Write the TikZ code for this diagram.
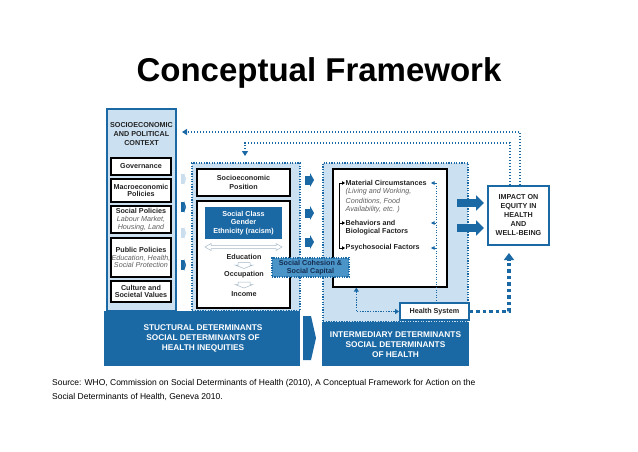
\documentclass[tikz,border=0pt]{standalone}
\usepackage{fontspec}
\setmainfont{Liberation Sans}
\usetikzlibrary{arrows.meta,calc}
\definecolor{dblue}{RGB}{26,104,164}
\definecolor{lblue}{RGB}{203,224,240}
\definecolor{mblue}{RGB}{74,148,200}
\definecolor{navy}{RGB}{20,45,80}
\definecolor{txt}{RGB}{35,35,35}
\definecolor{itc}{RGB}{95,95,95}
\definecolor{agray}{RGB}{165,185,200}
\begin{document}
\begin{tikzpicture}[x=1pt,y=-1pt,
  sm/.style={font=\bfseries\fontsize{7.2}{8.8}\selectfont, text=txt, align=center},
  smt/.style={font=\bfseries\fontsize{7.2}{7.7}\selectfont, text=txt, align=center},
  rt/.style={font=\bfseries\fontsize{7.2}{8.8}\selectfont, text=txt, anchor=west, inner sep=0.5pt},
  it/.style={font=\itshape\fontsize{7.2}{8.8}\selectfont, text=itc, anchor=west, inner sep=0.5pt},
  bandtxt/.style={font=\bfseries\fontsize{8.3}{10}\selectfont, text=white, align=center},
  wbox/.style={draw=black, line width=1.3pt, fill=white, inner sep=0pt},
  dotbox/.style={draw=dblue, line width=2pt, dash pattern=on 1.3pt off 1.3pt, fill=lblue, inner sep=0pt},
  band/.style={fill=dblue, inner sep=0pt},
  fb/.style={draw=dblue, line width=1.4pt, dash pattern=on 1.4pt off 1.6pt, -{Triangle[length=5pt,width=6pt]}},
  fbthick/.style={draw=dblue, line width=3.5pt, dash pattern=on 3.5pt off 3pt, -{Triangle[length=7pt,width=10pt]}},
  bigarr/.style={draw=dblue, line width=8pt, -{Triangle[length=8pt,width=15pt]}},
  midarr/.style={draw=dblue, line width=9pt, -{Triangle[length=4pt,width=14pt]}},
  tinyarr/.style={line width=10pt, -{Triangle[length=2pt,width=12pt]}},
  brk/.style={black, line width=0.9pt, -{Triangle[length=3pt,width=3.5pt]}},
  rarr/.style={dblue, line width=0.6pt, -{Triangle[length=3.5pt,width=3.5pt]}},
  hollow/.style={draw=agray, fill=white, line width=0.5pt}
]
\useasboundingbox (0,0) rectangle (638,452);

\node[font=\bfseries\fontsize{33}{36}\selectfont] (title) at (319,73) {Conceptual Framework};

% left column
\node[draw=dblue, line width=1.5pt, fill=lblue, minimum width=69pt, minimum height=202pt, inner sep=0pt] (ctx) at (141.5,210) {};
\node[sm] (ctxh) at (141.5,134) {SOCIOECONOMIC\\AND POLITICAL\\CONTEXT};
\node[wbox, sm, minimum width=60pt, minimum height=17pt] (gov) at (141,166.5) {Governance};
\node[wbox, smt, minimum width=60pt, minimum height=23pt] (macro) at (141,190.5) {Macroeconomic\\Policies};
\node[wbox, smt, minimum width=60pt, minimum height=27pt] (socpol) at (141,219.5) {Social Policies\\{\mdseries\itshape\color{itc}Labour Market,}\\{\mdseries\itshape\color{itc}Housing, Land}};
\node[wbox, smt, minimum width=60pt, minimum height=39pt] (pubpol) at (141,257.5) {Public Policies\\{\mdseries\itshape\color{itc}Education, Health,}\\{\mdseries\itshape\color{itc}Social Protection}};
\node[wbox, smt, minimum width=60pt, minimum height=21pt] (culture) at (141,291.5) {Culture and\\Societal Values};

% middle (structural) box
\node[dotbox, minimum width=108pt, minimum height=148pt] (midbox) at (246,237) {};
\node[wbox, sm, minimum width=93pt, minimum height=27pt] (sep) at (243.5,182.5) {Socioeconomic\\Position};
\node[wbox, minimum width=93pt, minimum height=107pt] (bigbox) at (243.5,254.5) {};
\node[band, sm, text=white, minimum width=77pt, minimum height=32pt] (scg) at (243.5,223) {Social Class\\Gender\\Ethnicity (racism)};
\draw[hollow] (205,247) -- (211,243.5) -- (211,245.5) -- (276,245.5) -- (276,243.5) -- (282,247) -- (276,250.5) -- (276,248.5) -- (211,248.5) -- (211,250.5) -- cycle;
\node[sm] (edu) at (244,257) {Education};
\draw[hollow] (238,262.5) -- (250,262.5) -- (250,265) -- (253,265) -- (244,268.5) -- (235,265) -- (238,265) -- cycle;
\node[sm] (occ) at (244,274.5) {Occupation};
\draw[hollow] (238,282) -- (250,282) -- (250,284.5) -- (253,284.5) -- (244,288) -- (235,284.5) -- (238,284.5) -- cycle;
\node[sm] (inc) at (244,294) {Income};

% bottom bands
\node[band, minimum width=196pt, minimum height=55pt] (bandL) at (202,338.5) {};
\node[bandtxt] (bandLt) at (203,338) {STUCTURAL DETERMINANTS\\SOCIAL DETERMINANTS OF\\HEALTH INEQUITIES};
\fill[dblue] (303,316) -- (311,316) -- (316,338) -- (311,360) -- (303,360) -- cycle;

% right (intermediary) box
\node[dotbox, minimum width=145pt, minimum height=159pt] (rbox) at (395.5,242.5) {};
\node[wbox, minimum width=114pt, minimum height=118pt] (rwhite) at (390,228) {};
\node[rt] (mat) at (345,183) {Material Circumstances};
\node[it] (l1) at (345,192) {(Living and Working,};
\node[it] (l2) at (345,201) {Conditions, Food};
\node[it] (l3) at (345,210) {Availability, etc. )};
\node[rt] (beh1) at (345,223) {Behaviors and};
\node[rt] (beh2) at (345,232) {Biological Factors};
\node[rt] (psy) at (345,248) {Psychosocial Factors};
\coordinate (bt) at (339,183);
\draw[black, line width=0.9pt] (bt) -- (bt |- psy.west);
\foreach \n in {mat,beh1,psy} \draw[brk] (bt |- \n.west) -- (\n.west);

\node[draw=dblue, line width=1.8pt, fill=white, font=\bfseries\fontsize{7.2}{8.8}\selectfont, text=txt, minimum width=69pt, minimum height=17pt, inner sep=0pt] (hs) at (434.5,311.5) {Health System};
\coordinate (vl) at (436,183);
\draw[dblue, line width=0.6pt, dotted] (vl) -- (vl |- hs.north);
\foreach \n in {mat,beh1,psy} \draw[rarr] (vl |- \n.west) -- ++(-5,0);
\draw[draw=dblue, line width=1.3pt, dash pattern=on 1.3pt off 1.3pt, {Triangle[length=4pt,width=5pt]}-{Triangle[length=4pt,width=5pt]}] ([xshift=24pt]rwhite.south west) |- (hs.west);

\node[band, minimum width=147pt, minimum height=44pt] (bandR) at (395.5,344) {};
\node[bandtxt] (bandRt) at (395.5,345) {INTERMEDIARY DETERMINANTS\\SOCIAL DETERMINANTS\\OF HEALTH};

% social cohesion
\node[draw=dblue, line width=1.6pt, dash pattern=on 1.2pt off 1.2pt, fill=mblue, font=\bfseries\fontsize{7.2}{8}\selectfont, text=navy, align=center, minimum width=77pt, minimum height=19pt, inner sep=0pt] (coh) at (310.5,267.5) {Social Cohesion \&\\Social Capital};

% impact
\node[draw=dblue, line width=2pt, fill=white, sm, minimum width=61pt, minimum height=59pt, inner sep=0pt, font=\bfseries\fontsize{7.2}{9}\selectfont] (impact) at (518.5,215.5) {IMPACT ON\\EQUITY IN\\HEALTH\\AND\\WELL-BEING};

% block arrows
\coordinate (ba1) at (457,203);
\coordinate (ba2) at (457,228);
\draw[bigarr] (ba1) -- ($(ba1 -| impact.west)+(-3,0)$);
\draw[bigarr] (ba2) -- ($(ba2 -| impact.west)+(-3,0)$);
\foreach \i/\y in {1/180,2/213,3/242} {
  \coordinate (ma\i) at (305,\y);
  \draw[midarr] (ma\i) -- ($(ma\i -| rbox.west)+(-8,0)$);
}
\foreach \i/\y/\c in {1/179/lblue!80!dblue!60,2/207/dblue,3/233/lblue!80!dblue!60,4/265/dblue} {
  \coordinate (la\i) at (181,\y);
  \draw[tinyarr, draw=\c] (la\i) -- ($(la\i -| midbox.west)+(-5,0)$);
}

% feedback loops
\coordinate (fb1end) at (182,132);
\draw[fb] ([xshift=1.5pt]impact.north) |- (fb1end);
\coordinate (fb2turn) at (245,143);
\draw[fb] ([xshift=-8.5pt]impact.north) |- (fb2turn) -- ($(midbox.north -| fb2turn)+(0,-6)$);
\draw[fbthick] (hs.east) -| ($(impact.south)+(-9.5,7)$);

% source
\node[anchor=west, align=left, inner sep=0pt, font=\fontsize{8.5}{14}\selectfont] (src) at (52,390) {Source: WHO, Commission on Social Determinants of Health (2010), A Conceptual Framework for Action on the\\Social Determinants of Health, Geneva 2010.};
\end{tikzpicture}
\end{document}
